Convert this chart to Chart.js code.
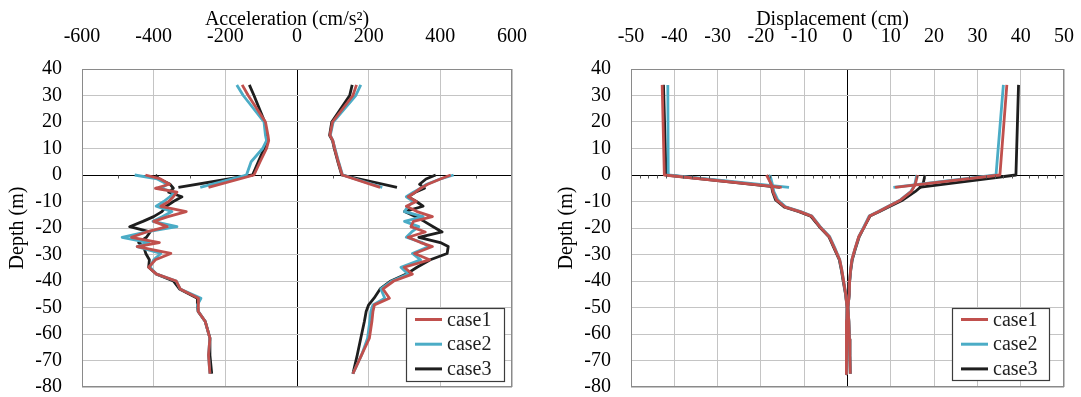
<!DOCTYPE html>
<html><head><meta charset="utf-8">
<script src="https://cdn.jsdelivr.net/npm/chart.js@4.4.1/dist/chart.umd.min.js"></script>
<style>
html,body{margin:0;padding:0;background:#fff;width:1081px;height:397px;overflow:hidden}
#c1{position:absolute;left:0;top:0}
#c2{position:absolute;left:549px;top:0}
</style></head><body>
<canvas id="c1" width="549" height="397"></canvas>
<canvas id="c2" width="532" height="397"></canvas>
<script>
// ---------- labels & ticks ----------
const caseLabels = ['case1', 'case2', 'case3'];
const accTitle = 'Acceleration (cm/s\u00b2)';
const dispTitle = 'Displacement (cm)';
const depthTitle = 'Depth (m)';
const accXTicks = [-600, -400, -200, 0, 200, 400, 600];
const dispXTicks = [-50, -40, -30, -20, -10, 0, 10, 20, 30, 40, 50];
const depthTicks = [-80, -70, -60, -50, -40, -30, -20, -10, 0, 10, 20, 30, 40];
const accMinorTicks = [-500, -300, -100, 100, 300, 500];
const dispMinorTicks = [-48,-46,-44,-42,-38,-36,-34,-32,-28,-26,-24,-22,-18,-16,-14,-12,-8,-6,-4,-2,2,4,6,8,12,14,16,18,22,24,26,28,32,34,36,38,42,44,46,48];

// ---------- acceleration: upper part (structure) ----------
const accUpperDepth = [34, 30, 20, 15, 13, 10, 5, 0, -4.7];
const acc1UpperMin = [-153, -136, -88, -81, -79, -85, -103, -120, -247];
const acc2UpperMin = [-168, -150, -92, -88, -85, -96, -128, -141, -270];
const acc3UpperMin = [-133, -120, -90, -84, -82, -92, -108, -124, -331];
const acc1UpperMax = [166, 156, 99, 92, 100, 105, 115, 126, 232];
const acc2UpperMax = [178, 164, 101, 93, 100, 106, 116, 127, 238];
const acc3UpperMax = [154, 147, 97, 91, 99, 104, 114, 125, 279];

// ---------- acceleration: lower part (ground) ----------
const accLowerDepth = [0, -1.5, -3.5, -5, -6.5, -8.2, -10, -11.8, -13.8, -15.7, -17.5, -19.5, -21.5, -23.5, -25.5, -27, -29.6, -32, -34.8, -37.4, -40, -43, -46.5, -49, -51.5, -55.3, -61.6, -68, -75];
const acc1LowerMin = [-423, -381, -356, -395, -335, -345, -358, -380, -309, -360, -400, -362, -420, -462, -384, -446, -352, -395, -414, -392, -337, -326, -275, -276, -275, -256, -243, -247, -243];
const acc2LowerMin = [-453, -390, -362, -380, -342, -355, -372, -393, -349, -375, -402, -335, -420, -488, -414, -446, -380, -400, -410, -392, -337, -326, -268, -278, -275, -256, -243, -247, -243];
const acc3LowerMin = [-395, -385, -354, -345, -358, -321, -345, -365, -377, -400, -430, -467, -410, -420, -442, -428, -422, -412, -414, -392, -345, -328, -278, -278, -276, -256, -243, -243, -238];
const acc1LowerMax = [429, 400, 365, 345, 330, 310, 333, 305, 335, 378, 325, 318, 358, 310, 345, 378, 328, 370, 299, 322, 270, 240, 258, 216, 212, 209, 202, 180, 156];
const acc2LowerMax = [437, 400, 362, 345, 325, 305, 325, 310, 300, 352, 300, 340, 320, 305, 350, 368, 322, 345, 290, 310, 265, 234, 245, 212, 206, 203, 197, 180, 156];
const acc3LowerMax = [387, 360, 342, 356, 330, 310, 333, 352, 300, 330, 355, 380, 405, 340, 400, 422, 419, 372, 335, 305, 262, 232, 215, 200, 193, 188, 178, 168, 156];

// ---------- displacement ----------
const dispUpperDepth = [34, 0, -4.7];
const disp1UpperMin = [-42.8, -42.3, -15.2];
const disp2UpperMin = [-41.5, -41.4, -13.5];
const disp3UpperMin = [-42.5, -41.9, -15.6];
const disp1UpperMax = [36.8, 35.2, 11.0];
const disp2UpperMax = [36.0, 34.3, 10.6];
const disp3UpperMax = [39.5, 38.9, 16.5];

const dispLowerDepth = [0, -3.8, -6.3, -9.4, -12, -13.8, -15.5, -19.5, -23.3, -28, -32, -36, -40, -45, -50, -55, -62, -68, -75];
const disp1LowerMin = [-18.7, -17.5, -17.2, -16.4, -14.5, -11.0, -8.3, -6.4, -4.2, -2.9, -1.8, -1.3, -0.9, -0.4, -0.1, -0.15, -0.2, -0.25, -0.3];
const disp2LowerMin = [-17.9, -17.3, -17.0, -16.1, -14.3, -10.8, -8.2, -6.3, -4.1, -2.8, -1.8, -1.3, -0.9, -0.4, -0.1, -0.15, -0.2, -0.25, -0.3];
const disp3LowerMin = [-18.3, -17.6, -17.3, -16.6, -14.7, -11.2, -8.5, -6.5, -4.3, -3.0, -1.9, -1.4, -1.0, -0.45, -0.1, -0.15, -0.2, -0.25, -0.3];
const disp1LowerMax = [16.2, 15.6, 14.7, 12.3, 9.3, 7.2, 5.1, 3.9, 2.6, 1.7, 1.0, 0.7, 0.5, 0.4, 0.1, 0.3, 0.45, 0.55, 0.65];
const disp2LowerMax = [16.0, 15.5, 14.6, 12.2, 9.2, 7.1, 5.0, 3.8, 2.6, 1.7, 1.0, 0.7, 0.5, 0.4, 0.1, 0.3, 0.45, 0.55, 0.65];
const disp3LowerMax = [17.9, 17.4, 15.6, 12.8, 9.6, 7.4, 5.2, 3.9, 2.7, 1.8, 1.1, 0.75, 0.5, 0.4, 0.1, 0.3, 0.45, 0.55, 0.65];

// ---------- styles ----------
const caseColors = ['#C0504D', '#4BACC6', '#1E1E1E'];
const FONT = "'Liberation Serif', 'Times New Roman', serif";

const pts = (depths, vals) => depths.map((d, i) => ({ x: vals[i], y: d }));

function buildDatasets(segments) {
  const ds = [];
  caseLabels.forEach((lab, ci) => {
    segments.forEach((seg, si) => {
      ds.push({
        label: lab,
        data: pts(seg.depth, seg.vals[ci]),
        borderColor: caseColors[ci],
        backgroundColor: caseColors[ci],
        showLine: true, fill: false, pointRadius: 0, borderWidth: 2.8,
        tension: 0, borderJoinStyle: 'round', borderCapStyle: 'butt',
        inLegend: si === 0
      });
    });
  });
  return ds;
}

const decor = {
  id: 'decor',
  afterDraw(chart, args, opts) {
    const { ctx, chartArea: a, scales: { x, y } } = chart;
    ctx.save();
    // frame
    ctx.strokeStyle = '#8a8a8a'; ctx.lineWidth = 1;
    ctx.strokeRect(Math.round(a.left) + 0.5, Math.round(a.top) + 0.5, Math.round(a.right - a.left) - 1, Math.round(a.bottom - a.top) - 1);
    // minor ticks along the zero-depth line
    const y0 = Math.round(y.getPixelForValue(0)) + 0.5;
    ctx.strokeStyle = '#555'; ctx.lineWidth = 1;
    ctx.beginPath();
    opts.minor.forEach(v => {
      const px = Math.round(x.getPixelForValue(v)) + 0.5;
      ctx.moveTo(px, y0); ctx.lineTo(px, y0 + 3);
    });
    ctx.stroke();
    // legend box
    const lg = opts.legend;
    const bx = Math.round(a.right - lg.right - lg.w), by = Math.round(a.bottom - lg.bottom - lg.h);
    ctx.fillStyle = '#fff'; ctx.fillRect(bx, by, lg.w, lg.h);
    ctx.strokeStyle = '#3c3c3c'; ctx.lineWidth = 1.2;
    ctx.strokeRect(bx + 0.5, by + 0.5, lg.w, lg.h);
    const items = chart.data.datasets.filter(d => d.inLegend);
    ctx.font = '20px ' + FONT; ctx.textBaseline = 'middle'; ctx.textAlign = 'left';
    items.forEach((d, i) => {
      const yy = by + 11.5 + i * 24.7;
      ctx.strokeStyle = d.borderColor; ctx.lineWidth = 3;
      ctx.beginPath(); ctx.moveTo(bx + 9, yy); ctx.lineTo(bx + 36, yy); ctx.stroke();
      ctx.fillStyle = '#222';
      ctx.fillText(d.label, bx + 41, yy + 1);
    });
    ctx.restore();
  }
};

function gridColor(c) { return (c.tick && c.tick.value === 0) ? '#000' : '#c4c4c4'; }

function makeChart(id, cfg) {
  const font = { family: FONT, size: 20, lineHeight: 1.2 };
  return new Chart(document.getElementById(id), {
    type: 'scatter',
    data: { datasets: buildDatasets(cfg.segments) },
    plugins: [decor],
    options: {
      responsive: false, animation: false, devicePixelRatio: 1,
      layout: { padding: { left: 0, right: cfg.padRight, top: 0, bottom: 10 } },
      plugins: {
        legend: { display: false }, tooltip: { enabled: false },
        decor: { minor: cfg.minor, legend: cfg.legend }
      },
      scales: {
        x: {
          type: 'linear', position: 'top', min: cfg.xTicks[0], max: cfg.xTicks[cfg.xTicks.length - 1],
          afterBuildTicks: s => { s.ticks = cfg.xTicks.map(v => ({ value: v })); },
          afterFit: s => { s.height = 69; },
          ticks: { font, color: '#000', padding: 0, autoSkip: false, maxRotation: 0, callback: v => String(v) },
          grid: { color: gridColor, lineWidth: 1, drawTicks: true, tickLength: 20, tickColor: 'rgba(0,0,0,0)' },
          border: { display: false },
          title: { display: true, text: cfg.title, font, color: '#000', padding: { top: 8, bottom: 0 } }
        },
        y: {
          type: 'linear', position: 'left', min: -80, max: 40,
          afterBuildTicks: s => { s.ticks = depthTicks.map(v => ({ value: v })); },
          afterFit: s => { s.width = 82; },
          ticks: { font: { family: FONT, size: 20, lineHeight: 1.0 }, color: '#000', padding: 0, autoSkip: false, callback: v => String(v) },
          grid: { color: gridColor, lineWidth: 1, drawTicks: true, tickLength: 20, tickColor: 'rgba(0,0,0,0)' },
          border: { display: false },
          title: { display: true, text: depthTitle, font, color: '#000', padding: { top: 6, bottom: 0 } }
        }
      }
    }
  });
}

makeChart('c1', {
  title: accTitle + '    ',
  xTicks: accXTicks, minor: accMinorTicks, padRight: 37,
  legend: { right: 8, bottom: 6, w: 98, h: 73 },
  segments: [
    { depth: accUpperDepth, vals: [acc1UpperMin, acc2UpperMin, acc3UpperMin] },
    { depth: accUpperDepth, vals: [acc1UpperMax, acc2UpperMax, acc3UpperMax] },
    { depth: accLowerDepth, vals: [acc1LowerMin, acc2LowerMin, acc3LowerMin] },
    { depth: accLowerDepth, vals: [acc1LowerMax, acc2LowerMax, acc3LowerMax] }
  ]
});

makeChart('c2', {
  title: dispTitle + '      ',
  xTicks: dispXTicks, minor: dispMinorTicks, padRight: 17,
  legend: { right: 15, bottom: 7, w: 97, h: 72 },
  segments: [
    { depth: dispUpperDepth, vals: [disp1UpperMin, disp2UpperMin, disp3UpperMin] },
    { depth: dispUpperDepth, vals: [disp1UpperMax, disp2UpperMax, disp3UpperMax] },
    { depth: dispLowerDepth, vals: [disp1LowerMin, disp2LowerMin, disp3LowerMin] },
    { depth: dispLowerDepth, vals: [disp1LowerMax, disp2LowerMax, disp3LowerMax] }
  ]
});
</script></body></html>
